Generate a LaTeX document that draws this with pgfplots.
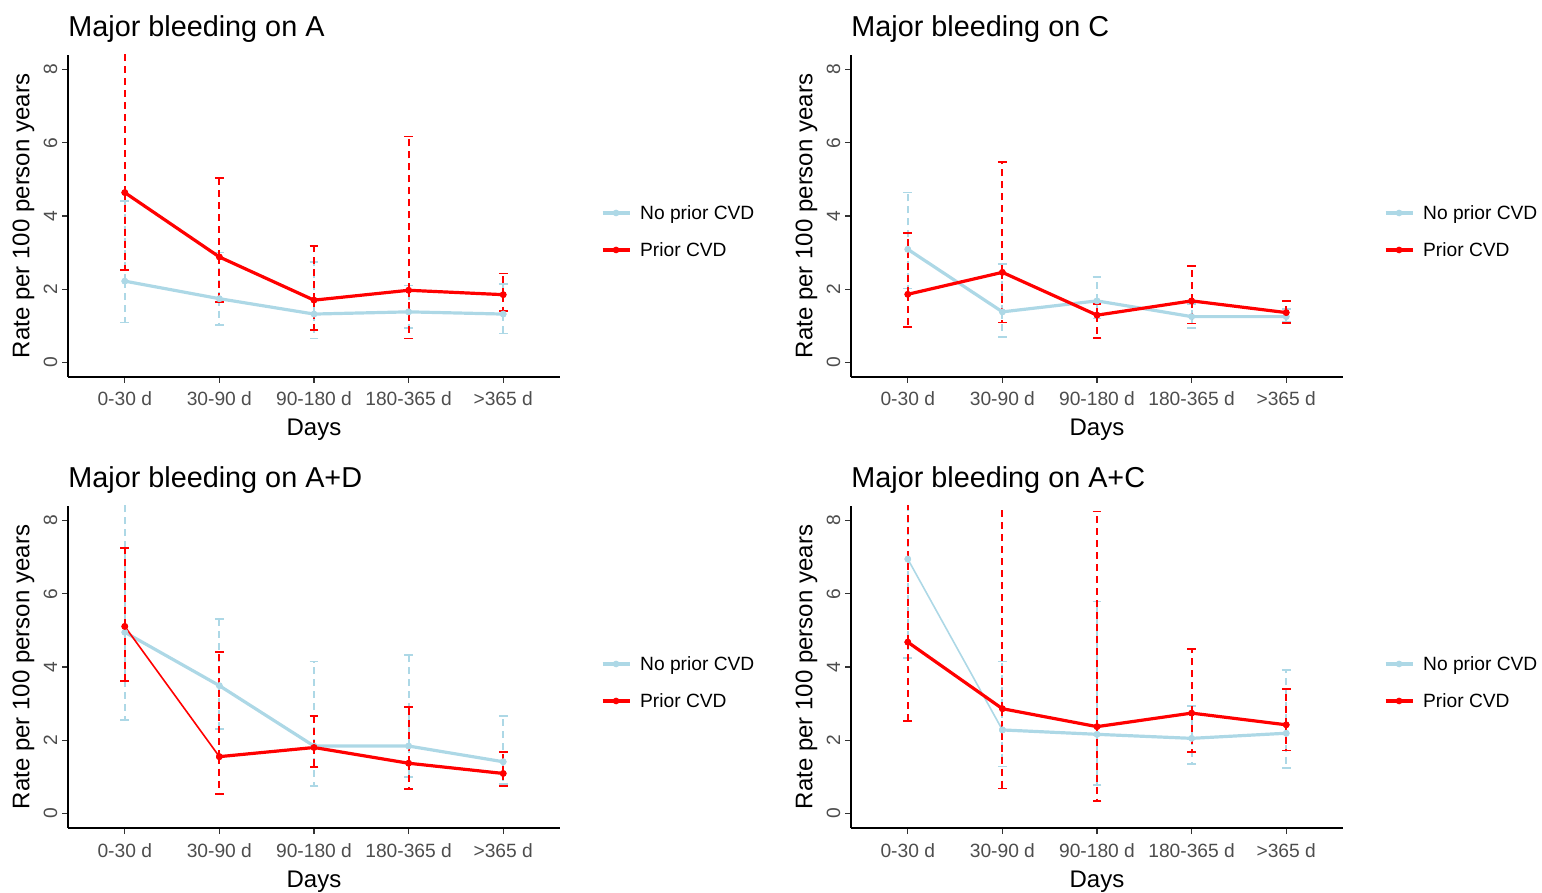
\documentclass[border=0pt]{standalone}
\usepackage{fontspec}
\setmainfont{Liberation Sans}
\usepackage{pgfplots}
\usepackage{pgfplotstable}
\pgfplotsset{compat=1.18}
\definecolor{lb}{HTML}{ADD8E6}
\definecolor{gthirty}{HTML}{4D4D4D}
\definecolor{gtwenty}{HTML}{333333}

\pgfplotstableread{
x b blo bhi r rlo rhi
1 2.22 1.09 4.40 4.64 2.52 10
2 1.74 1.02 3.00 2.88 1.64 5.04
3 1.32 0.65 2.75 1.70 0.88 3.17
4 1.38 0.93 2.10 1.97 0.65 6.17
5 1.32 0.79 2.15 1.85 1.41 2.43
}\tA
\pgfplotstableread{
x b blo bhi r rlo rhi
1 3.09 2.02 4.64 1.86 0.97 3.54
2 1.38 0.70 2.68 2.46 1.09 5.48
3 1.68 1.20 2.34 1.29 0.66 1.60
4 1.25 0.93 1.60 1.68 1.06 2.64
5 1.25 1.10 1.45 1.36 1.08 1.67
}\tB
\pgfplotstableread{
x b blo bhi r rlo rhi
1 4.95 2.55 10 5.11 3.62 7.25
2 3.49 2.30 5.31 1.55 0.52 4.41
3 1.84 0.75 4.15 1.80 1.26 2.65
4 1.84 1.00 4.33 1.37 0.66 2.90
5 1.41 0.80 2.67 1.09 0.75 1.67
}\tC
\pgfplotstableread{
x b blo bhi r rlo rhi
1 6.95 4.24 10 4.68 2.53 10
2 2.28 1.28 4.15 2.86 0.68 10
3 2.16 0.78 5.79 2.37 0.34 8.25
4 2.05 1.35 2.94 2.74 1.67 4.50
5 2.19 1.23 3.92 2.42 1.72 3.39
}\tD

\newcommand{\errbars}[5]{%
 \addplot[only marks, color=#5, mark=*, mark size=1.4bp, mark options={solid, fill=#5, line width=0.5bp}, forget plot,
   error bars/.cd, y dir=both, y explicit,
   error bar style={color=#5, line width=0.9bp, dash pattern=on 3.5bp off 2.5bp},
   error mark=-,
   error mark options={rotate=90, color=#5, solid, line width=0.9bp, mark size=2.2bp}]
   table[x=x, y=#2, y error plus expr=\thisrow{#4}-\thisrow{#2}, y error minus expr=\thisrow{#2}-\thisrow{#3}] {#1};}

\pgfplotsset{
 bl/.style={color=lb, line width=1.6bp, mark=*, mark size=1.4bp, mark options={solid, fill=lb, line width=0.5bp}},
 rl/.style={color=red, line width=1.6bp, mark=*, mark size=1.4bp, mark options={solid, fill=red, line width=0.5bp}},
 panel/.style={
  scale only axis, width=246bp, height=161bp,
  xmin=0.4, xmax=5.6, ymin=-0.4, ymax=8.4,
  xtick={1,2,3,4,5}, xticklabels={0-30 d,30-90 d,90-180 d,180-365 d,>365 d},
  ytick={0,2,4,6,8},
  axis lines=left, axis line style={-, line width=0.8bp, black},
  tick align=outside, major tick length=3bp,
  tick style={gtwenty, line width=0.6bp},
  /pgf/number format/assume math mode=true,
  ticklabel style={font=\fontsize{9.6bp}{11bp}\selectfont, text=gthirty},
  xticklabel style={anchor=base, yshift=-11.5bp},
  yticklabel style={xshift=-2.5bp, rotate=90, anchor=base},
  every axis title/.style={at={(0,1)}, anchor=base west, inner sep=0pt, yshift=9bp, font=\fontsize{14.4bp}{17bp}\selectfont},
  xlabel={Days}, ylabel={Rate per 100 person years},
  every axis x label/.style={at={(axis description cs:0.5,0)}, anchor=base, yshift=-29.5bp, font=\fontsize{12bp}{14bp}\selectfont},
  every axis y label/.style={at={(axis description cs:-0.0783,0.5)}, rotate=90, anchor=base, font=\fontsize{12bp}{14bp}\selectfont},
  legend cell align=left,
  legend style={at={(1.0833,0.4519)}, anchor=west, draw=none, fill=none, inner sep=0pt, outer sep=0pt,
    row sep=11.5bp, column sep=4.5bp, font=\fontsize{9.6bp}{11bp}\selectfont,
    nodes={inner sep=0pt, text height=7bp, text depth=0pt, anchor=west}},
  legend image code/.code={\draw[##1, mark=none] (0bp,0bp) -- (13.5bp,0bp); \draw[##1] plot coordinates {(6.75bp,0bp)};},
 }
}

\begin{document}
\begin{tikzpicture}
\useasboundingbox (0,0) rectangle (771bp,446.5bp);

\begin{axis}[panel, at={(34bp,258bp)}, anchor=south west, title={Major bleeding on A}]
\errbars{\tA}{b}{blo}{bhi}{lb}
\addplot[bl] table[x=x,y=b]{\tA}; \addlegendentry{No prior CVD}
\errbars{\tA}{r}{rlo}{rhi}{red}
\addplot[rl] table[x=x,y=r]{\tA}; \addlegendentry{Prior CVD}
\end{axis}

\begin{axis}[panel, at={(425.5bp,258bp)}, anchor=south west, title={Major bleeding on C}]
\errbars{\tB}{b}{blo}{bhi}{lb}
\addplot[bl] table[x=x,y=b]{\tB}; \addlegendentry{No prior CVD}
\errbars{\tB}{r}{rlo}{rhi}{red}
\addplot[rl] table[x=x,y=r]{\tB}; \addlegendentry{Prior CVD}
\end{axis}

\begin{axis}[panel, at={(34bp,32.5bp)}, anchor=south west, title={Major bleeding on A+D}]
\errbars{\tC}{b}{blo}{bhi}{lb}
\addplot[bl] table[x=x,y=b]{\tC}; \addlegendentry{No prior CVD}
\errbars{\tC}{r}{rlo}{rhi}{red}
\addplot[rl] table[x=x,y=r, skip coords between index={0}{1}]{\tC}; \addlegendentry{Prior CVD}
\addplot[rl, line width=0.8bp, forget plot] table[x=x,y=r, skip coords between index={2}{5}]{\tC};
\end{axis}

\begin{axis}[panel, at={(425.5bp,32.5bp)}, anchor=south west, title={Major bleeding on A+C}]
\errbars{\tD}{b}{blo}{bhi}{lb}
\addplot[bl] table[x=x,y=b, skip coords between index={0}{1}]{\tD}; \addlegendentry{No prior CVD}
\addplot[bl, line width=0.8bp, forget plot] table[x=x,y=b, skip coords between index={2}{5}]{\tD};
\errbars{\tD}{r}{rlo}{rhi}{red}
\addplot[rl] table[x=x,y=r]{\tD}; \addlegendentry{Prior CVD}
\end{axis}

\end{tikzpicture}
\end{document}
